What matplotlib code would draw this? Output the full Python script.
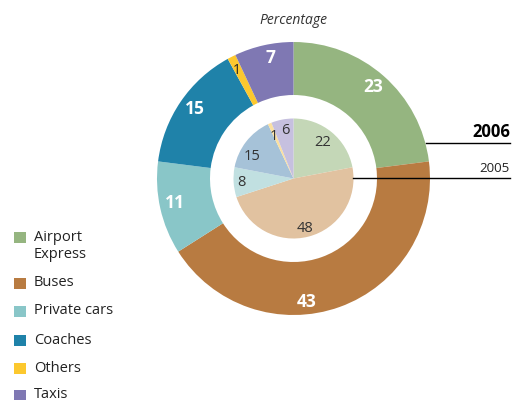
import matplotlib
matplotlib.use("Agg")
import matplotlib.pyplot as plt
from matplotlib.patches import Rectangle

plt.rcParams['font.family'] = ['Open Sans', 'DejaVu Sans']

categories = ["Airport\nExpress", "Buses", "Private cars", "Coaches", "Others", "Taxis"]
values_2006 = [23, 43, 11, 15, 1, 7]
values_2005 = [22, 48, 8, 15, 1, 6]
outer_colors = ["#95b580", "#b87b41", "#89c6c8", "#1f82a9", "#fcc82e", "#7f78b3"]
inner_colors = ["#c4d7b7", "#e1c2a0", "#c1e0e1", "#a6c2d8", "#fbe0a0", "#c6c0df"]

# label positions (pixels, from top-left)
outer_label_px = [(373, 87), (307, 302), (175, 203), (195, 109), (237, 70), (270, 58)]
inner_label_px = [(323, 143), (305, 229), (241, 183), (252, 156), (274, 137), (285, 131)]

W, H = 513, 400
fig = plt.figure(figsize=(W / 100, H / 100), dpi=100)
ax = fig.add_axes([0, 0, 1, 1])

cx, cy = 293.5, H - 178.5
R_out, R_hole, R_in = 136.5, 83.5, 60

ax.pie(values_2006, colors=outer_colors, startangle=90, counterclock=False,
       radius=R_out, center=(cx, cy),
       wedgeprops=dict(width=R_out - R_hole, linewidth=0))
ax.pie(values_2005, colors=inner_colors, startangle=90, counterclock=False,
       radius=R_in, center=(cx, cy), wedgeprops=dict(linewidth=0))

ax.set_xlim(0, W)
ax.set_ylim(0, H)
ax.set_aspect('equal')
ax.axis('off')

for v, (x, y) in zip(values_2006, outer_label_px):
    small = v < 3
    ax.text(x, H - y, str(v), ha='center', va='center',
            fontsize=10 if small else 12.5, fontweight='normal' if small else 'bold',
            color='#222222' if small else 'white')
for v, (x, y) in zip(values_2005, inner_label_px):
    ax.text(x, H - y, str(v), ha='center', va='center', fontsize=10.5, color='#333333')

# year annotations
ax.plot([426, 510], [H - 143.3, H - 143.3], color='black', lw=1)
ax.plot([353, 510], [H - 178.3, H - 178.3], color='black', lw=1)
ax.text(510, H - 132, "2006", ha='right', va='center', fontsize=12, fontweight='bold', color='black')
ax.text(510, H - 168, "2005", ha='right', va='center', fontsize=9.5, color='#222222')

ax.text(293, H - 20, "Percentage", ha='center', va='center', fontsize=10,
        style='italic', color='#333333')

# legend
legend_y = [237, 283, 311, 340, 368, 395]
for cat, col, y in zip(categories, outer_colors, legend_y):
    ax.add_patch(Rectangle((14, H - y - 6), 11.5, 11.5, facecolor=col, edgecolor='none'))
    if '\n' in cat:
        ax.text(34, H - y - 9, cat, ha='left', va='center', fontsize=10.5,
                color='#222222', linespacing=1.2)
    else:
        ax.text(34, H - y, cat, ha='left', va='center', fontsize=10.5, color='#222222')

fig.savefig("out.png", dpi=100)
